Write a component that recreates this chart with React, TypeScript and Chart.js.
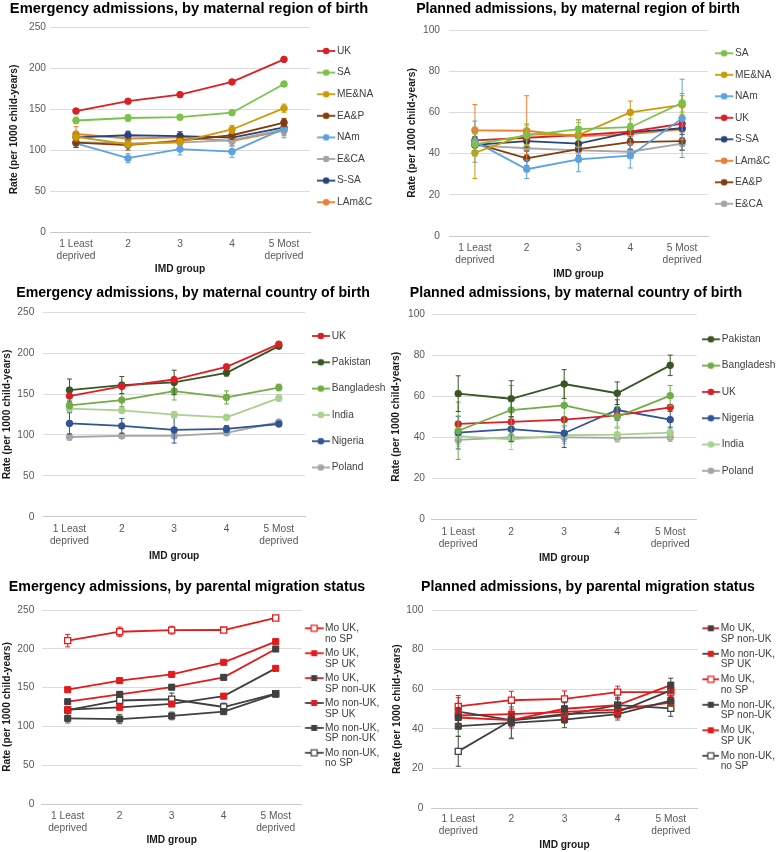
import React, { useEffect, useRef } from 'react';
import { Chart, registerables } from 'chart.js';

Chart.register(...registerables);

const FONT_FAMILY = '"Liberation Sans", Arial, Helvetica, sans-serif';

// ---------- categories ----------
const imdGroups: (string | string[])[] = [['1 Least', 'deprived'], '2', '3', '4', ['5 Most', 'deprived']];
const yTitleText = 'Rate (per 1000 child-years)';
const xTitleText = 'IMD group';

// ---------- Emergency admissions, by maternal region of birth ----------
const emRegionLabels = ['UK', 'SA', 'ME&NA', 'EA&P', 'NAm', 'E&CA', 'S-SA', 'LAm&C'];
const emRegionUK = [147.5, 159.5, 167.5, 183, 210.5];
const emRegionSA = [136, 139, 140, 145.5, 180.5];
const emRegionMENA = [116, 107, 110, 125, 151];
const emRegionEAP = [109, 106, 111.5, 118, 133.5];
const emRegionNAm = [108, 90, 101, 98, 126];
const emRegionECA = [109.5, 108, 109, 112, 125];
const emRegionSSA = [115.5, 118, 117, 115, 127.5];
const emRegionLAmC = [119.5, 114, 115.5, 111, 123.5];
const emRegionUKErr = [1, 1, 1, 1, 1.5];
const emRegionSAErr = [4, 4, 3, 2, 3];
const emRegionMENAErr = [5, 4, 4, 5, 5];
const emRegionEAPErr = [6, 6, 5, 5, 5];
const emRegionNAmErr = [5, 5.5, 7, 7, 11];
const emRegionECAErr = [5, 5, 5, 5, 6];
const emRegionSSAErr = [5, 5, 5, 4, 5];
const emRegionLAmCErr = [9, 8, 7, 6, 6];

// ---------- Planned admissions, by maternal region of birth ----------
const plRegionLabels = ['SA', 'ME&NA', 'NAm', 'UK', 'S-SA', 'LAm&C', 'EA&P', 'E&CA'];
const plRegionSA = [44.5, 48.8, 51.9, 52.8, 64.7];
const plRegionMENA = [40.4, 49.4, 49, 60, 63.6];
const plRegionNAm = [45.8, 32.4, 37.2, 39, 57.1];
const plRegionUK = [46.4, 47.7, 49, 50.6, 54.5];
const plRegionSSA = [44.2, 46.1, 44.8, 50.3, 52.3];
const plRegionLAmC = [51.3, 51.1, 48.4, 49.5, 51.8];
const plRegionEAP = [45, 37.7, 42.2, 45.6, 46.1];
const plRegionECA = [44, 42.6, 41.6, 40.9, 44.8];
const plRegionSAErr = [5, 5, 4.5, 4, 4.5];
const plRegionMENAErr = [12.5, 5, 6, 5.5, 4.5];
const plRegionNAmErr = [10, 4.5, 6, 6, 19];
const plRegionUKErr = [1, 1, 1, 1, 1];
const plRegionSSAErr = [4, 3, 3, 3, 3];
const plRegionLAmCErr = [12.5, 17, 8, 5, 5];
const plRegionEAPErr = [5, 3.5, 3, 3.5, 4.5];
const plRegionECAErr = [4, 3, 3, 3, 3];

// ---------- Emergency admissions, by maternal country of birth ----------
const emCountryLabels = ['UK', 'Pakistan', 'Bangladesh', 'India', 'Nigeria', 'Poland'];
const emCountryUK = [147.6, 159.3, 167.8, 183.3, 211];
const emCountryPakistan = [154.9, 161, 164.2, 176, 208.6];
const emCountryBangladesh = [136.1, 142.7, 153.7, 145.9, 158];
const emCountryIndia = [132.1, 130, 124.8, 121.5, 145.1];
const emCountryNigeria = [114.1, 111, 106.1, 107.3, 113.4];
const emCountryPoland = [97.5, 98.8, 98.8, 102.4, 115.8];
const emCountryUKErr = [1, 1, 1, 1, 1.5];
const emCountryPakistanErr = [13.5, 10.5, 15, 4, 3];
const emCountryBangladeshErr = [4, 8, 11, 8, 4];
const emCountryIndiaErr = [3, 4, 4, 3, 4];
const emCountryNigeriaErr = [13, 9, 16, 4, 3];
const emCountryPolandErr = [4, 3, 3, 2, 3];

// ---------- Planned admissions, by maternal country of birth ----------
const plCountryLabels = ['Pakistan', 'Bangladesh', 'UK', 'Nigeria', 'India', 'Poland'];
const plCountryPakistan = [61.3, 58.8, 66, 61.5, 75.1];
const plCountryBangladesh = [43.2, 53.3, 55.6, 50, 60.3];
const plCountryUK = [46.5, 47.5, 48.6, 50.7, 54.6];
const plCountryNigeria = [42.3, 44, 42, 53.3, 48.6];
const plCountryIndia = [40.6, 39, 41, 41.3, 42.3];
const plCountryPoland = [38.7, 40, 40, 39.7, 40];
const plCountryPakistanErr = [8.7, 8.8, 7, 5.5, 5];
const plCountryBangladeshErr = [14, 12, 10, 5, 5];
const plCountryUKErr = [0.8, 0.8, 0.8, 0.8, 0.8];
const plCountryNigeriaErr = [8, 6, 7, 5, 4];
const plCountryIndiaErr = [5, 5, 4, 3, 3];
const plCountryPolandErr = [2, 2, 2, 2, 2];

// ---------- Emergency admissions, by parental migration status ----------
const emMigLabels = ['Mo UK,\nno SP', 'Mo UK,\nSP UK', 'Mo UK,\nSP non-UK', 'Mo non-UK,\nSP UK', 'Mo non-UK,\nSP non-UK', 'Mo non-UK,\nno SP'];
const emMigUkNoSP = [210.5, 222, 224, 224.2, 239.7];
const emMigUkSpUk = [147.3, 159, 167, 182.6, 209.2];
const emMigUkSpNon = [131.8, 141.3, 150.5, 163.2, 199.7];
const emMigNonSpUk = [121.5, 124.6, 128.9, 139, 174.8];
const emMigNonSpNon = [110.4, 109.5, 113.5, 119, 141.5];
const emMigNonNoSP = [121, 133.4, 135, 125, 142.2];
const emMigUkNoSPErr = [8, 6, 5, 3, 2];
const emMigUkSpUkErr = [1, 1, 1, 1, 1];
const emMigUkSpNonErr = [3, 3, 3, 3, 3];
const emMigNonSpUkErr = [3, 3, 3, 3, 3];
const emMigNonSpNonErr = [6, 6, 5, 3, 3];
const emMigNonNoSPErr = [4, 5, 8, 5, 3];

// ---------- Planned admissions, by parental migration status ----------
const plMigLabels = ['Mo UK,\nSP non-UK', 'Mo non-UK,\nSP UK', 'Mo UK,\nno SP', 'Mo non-UK,\nSP non-UK', 'Mo UK,\nSP UK', 'Mo non-UK,\nno SP'];
const plMigUkSpNon = [45.8, 44.5, 50.2, 52, 62.1];
const plMigNonSpUk = [48.8, 44.5, 47.5, 48.5, 59.5];
const plMigUkNoSP = [51.4, 54.5, 55.2, 58.6, 58.6];
const plMigNonSpNon = [41.4, 43.1, 44.7, 47.5, 54.3];
const plMigUkSpUk = [46.8, 47.5, 48.6, 49.8, 53.3];
const plMigNonNoSP = [28.7, 44.4, 47, 52, 50.4];
const plMigUkSpNonErr = [5, 3, 3, 3, 3.5];
const plMigNonSpUkErr = [7, 4, 3, 3, 3];
const plMigUkNoSPErr = [5.5, 4.5, 4, 3, 2];
const plMigNonSpNonErr = [5, 8, 4, 3, 3];
const plMigUkSpUkErr = [1, 1, 1, 1, 1];
const plMigNonNoSPErr = [7.5, 9, 4, 4, 4];

// ---------- colours ----------
const C = {
  red: '#dc1f26',
  sa: '#7cc24a',
  mena: '#cc9a06',
  eap: '#843c0c',
  nam: '#5ba3e0',
  eca: '#a5a5a5',
  ssa: '#264478',
  lamc: '#ed7d31',
  pakistan: '#375623',
  bangladesh: '#70ad47',
  india: '#a9d18e',
  nigeria: '#2f5597',
  poland: '#a5a5a5',
  migRed: '#e31b1b',
  migDark: '#404040',
  olive: '#4b6b2a',
};

type Series = {
  label: string;
  values: number[];
  errors: number[];
  line: string;
  marker: string;
  open?: boolean;
  errColor?: string;
};

type Spec = {
  title: string;
  titleSize: number;
  series: Series[];
  yMax: number;
  yStep: number;
  shape: 'circle' | 'rect';
  L: number; T: number; W: number; H: number;
  area: { left: number; right: number; top: number; bottom: number };
  titleY: number;
  yTitleX: number; yTickRight: number;
  xTickY: number; xTitleY: number;
  legFirstY: number; legSpacing: number; legLines: number; legLH: number;
  iconStart: number; iconLen: number; textStart: number;
};

const AX_SIZE = 10.2;
const AX_LH = AX_SIZE * 1.2;
const TICK_SIZE = 10.2;
const TICK_LH = TICK_SIZE * 1.2;
const LEG_SIZE = 10.2;

const ser = (label: string, values: number[], errors: number[], line: string, marker?: string, open?: boolean, errColor?: string): Series =>
  ({ label, values, errors, line, marker: marker || line, open, errColor });

const specs: Spec[] = [
  {
    title: 'Emergency admissions, by maternal region of birth',
    titleSize: 14.7,
    series: [
      ser(emRegionLabels[0], emRegionUK, emRegionUKErr, C.red),
      ser(emRegionLabels[1], emRegionSA, emRegionSAErr, C.sa),
      ser(emRegionLabels[2], emRegionMENA, emRegionMENAErr, C.mena),
      ser(emRegionLabels[3], emRegionEAP, emRegionEAPErr, C.eap),
      ser(emRegionLabels[4], emRegionNAm, emRegionNAmErr, C.nam),
      ser(emRegionLabels[5], emRegionECA, emRegionECAErr, C.eca),
      ser(emRegionLabels[6], emRegionSSA, emRegionSSAErr, C.ssa),
      ser(emRegionLabels[7], emRegionLAmC, emRegionLAmCErr, C.lamc),
    ],
    yMax: 250, yStep: 50, shape: 'circle',
    L: 0, T: 0, W: 378, H: 280,
    area: { left: 50, right: 310, top: 27, bottom: 232 },
    titleY: 8.8,
    yTitleX: 14, yTickRight: 46, xTickY: 244, xTitleY: 269,
    legFirstY: 51, legSpacing: 21.6, legLines: 1, legLH: 12,
    iconStart: 317, iconLen: 18.3, textStart: 337,
  },
  {
    title: 'Planned admissions, by maternal region of birth',
    titleSize: 14.15,
    series: [
      ser(plRegionLabels[0], plRegionSA, plRegionSAErr, C.sa),
      ser(plRegionLabels[1], plRegionMENA, plRegionMENAErr, C.mena),
      ser(plRegionLabels[2], plRegionNAm, plRegionNAmErr, C.nam),
      ser(plRegionLabels[3], plRegionUK, plRegionUKErr, C.red),
      ser(plRegionLabels[4], plRegionSSA, plRegionSSAErr, C.ssa),
      ser(plRegionLabels[5], plRegionLAmC, plRegionLAmCErr, C.lamc),
      ser(plRegionLabels[6], plRegionEAP, plRegionEAPErr, C.eap),
      ser(plRegionLabels[7], plRegionECA, plRegionECAErr, C.eca),
    ],
    yMax: 100, yStep: 20, shape: 'circle',
    L: 375, T: 0, W: 406, H: 282,
    area: { left: 449, right: 708, top: 30, bottom: 236 },
    titleY: 8.8,
    yTitleX: 411.7, yTickRight: 440, xTickY: 248.3, xTitleY: 274,
    legFirstY: 53.3, legSpacing: 21.5, legLines: 1, legLH: 12,
    iconStart: 715, iconLen: 18.3, textStart: 735,
  },
  {
    title: 'Emergency admissions, by maternal country of birth',
    titleSize: 14.15,
    series: [
      ser(emCountryLabels[0], emCountryUK, emCountryUKErr, C.red),
      ser(emCountryLabels[1], emCountryPakistan, emCountryPakistanErr, C.pakistan),
      ser(emCountryLabels[2], emCountryBangladesh, emCountryBangladeshErr, C.bangladesh),
      ser(emCountryLabels[3], emCountryIndia, emCountryIndiaErr, C.india),
      ser(emCountryLabels[4], emCountryNigeria, emCountryNigeriaErr, C.nigeria),
      ser(emCountryLabels[5], emCountryPoland, emCountryPolandErr, C.poland),
    ],
    yMax: 250, yStep: 50, shape: 'circle',
    L: -4, T: 280, W: 394, H: 284,
    area: { left: 43.3, right: 305, top: 312.3, bottom: 516.7 },
    titleY: 293.3,
    yTitleX: 6.7, yTickRight: 34.3, xTickY: 529.3, xTitleY: 556,
    legFirstY: 336, legSpacing: 26.3, legLines: 1, legLH: 12,
    iconStart: 311.7, iconLen: 18.3, textStart: 331.7,
  },
  {
    title: 'Planned admissions, by maternal country of birth',
    titleSize: 14.15,
    series: [
      ser(plCountryLabels[0], plCountryPakistan, plCountryPakistanErr, C.pakistan),
      ser(plCountryLabels[1], plCountryBangladesh, plCountryBangladeshErr, C.bangladesh),
      ser(plCountryLabels[2], plCountryUK, plCountryUKErr, C.red),
      ser(plCountryLabels[3], plCountryNigeria, plCountryNigeriaErr, C.nigeria),
      ser(plCountryLabels[4], plCountryIndia, plCountryIndiaErr, C.india),
      ser(plCountryLabels[5], plCountryPoland, plCountryPolandErr, C.poland),
    ],
    yMax: 100, yStep: 20, shape: 'circle',
    L: 372, T: 280, W: 408, H: 286,
    area: { left: 431.7, right: 696.7, top: 314.3, bottom: 519.3 },
    titleY: 292.7,
    yTitleX: 396, yTickRight: 425, xTickY: 531.7, xTitleY: 558.3,
    legFirstY: 339.3, legSpacing: 26.3, legLines: 1, legLH: 12,
    iconStart: 701.7, iconLen: 18.3, textStart: 721.7,
  },
  {
    title: 'Emergency admissions, by parental migration status',
    titleSize: 14.2,
    series: [
      ser(emMigLabels[0], emMigUkNoSP, emMigUkNoSPErr, C.migRed, C.migRed, true),
      ser(emMigLabels[1], emMigUkSpUk, emMigUkSpUkErr, C.migRed, C.migRed),
      ser(emMigLabels[2], emMigUkSpNon, emMigUkSpNonErr, C.migRed, C.migDark),
      ser(emMigLabels[3], emMigNonSpUk, emMigNonSpUkErr, C.migDark, C.migRed),
      ser(emMigLabels[4], emMigNonSpNon, emMigNonSpNonErr, C.migDark, C.migDark, false, C.olive),
      ser(emMigLabels[5], emMigNonNoSP, emMigNonNoSPErr, C.migDark, C.migDark, true),
    ],
    yMax: 250, yStep: 50, shape: 'rect',
    L: -10, T: 560, W: 394, H: 292,
    area: { left: 41.7, right: 301.7, top: 610, bottom: 804 },
    titleY: 586.7,
    yTitleX: 7.3, yTickRight: 34.3, xTickY: 816, xTitleY: 840,
    legFirstY: 628.3, legSpacing: 24.9, legLines: 2, legLH: 10.7,
    iconStart: 305, iconLen: 18.3, textStart: 325,
  },
  {
    title: 'Planned admissions, by parental migration status',
    titleSize: 14.15,
    series: [
      ser(plMigLabels[0], plMigUkSpNon, plMigUkSpNonErr, C.migRed, C.migDark),
      ser(plMigLabels[1], plMigNonSpUk, plMigNonSpUkErr, C.migDark, C.migRed),
      ser(plMigLabels[2], plMigUkNoSP, plMigUkNoSPErr, C.migRed, C.migRed, true),
      ser(plMigLabels[3], plMigNonSpNon, plMigNonSpNonErr, C.migDark, C.migDark, false, C.olive),
      ser(plMigLabels[4], plMigUkSpUk, plMigUkSpUkErr, C.migRed, C.migRed),
      ser(plMigLabels[5], plMigNonNoSP, plMigNonNoSPErr, C.migDark, C.migDark, true),
    ],
    yMax: 100, yStep: 20, shape: 'rect',
    L: 391, T: 560, W: 394, H: 292,
    area: { left: 431.7, right: 690, top: 610, bottom: 808.3 },
    titleY: 586.7,
    yTitleX: 397.3, yTickRight: 423.3, xTickY: 819.3, xTitleY: 845,
    legFirstY: 628.3, legSpacing: 25.5, legLines: 2, legLH: 10.7,
    iconStart: 695, iconLen: 17, textStart: 713.3,
  },
];

const errorBarPlugin = {
  id: 'errorBars',
  beforeDatasetDraw(chart: any, args: any) {
    const ds: any = chart.data.datasets[args.index];
    const errs: number[] | undefined = ds.errors;
    if (!errs) return;
    const yScale = chart.scales.y;
    const ctx: CanvasRenderingContext2D = chart.ctx;
    ctx.save();
    ctx.strokeStyle = ds.errColor;
    ctx.lineWidth = 1;
    args.meta.data.forEach((pt: any, i: number) => {
      const v = ds.data[i];
      const e = errs[i];
      const x = pt.x;
      const yt = yScale.getPixelForValue(v + e);
      const yb = yScale.getPixelForValue(v - e);
      ctx.beginPath();
      ctx.moveTo(x, yt); ctx.lineTo(x, yb);
      ctx.moveTo(x - 2.5, yt); ctx.lineTo(x + 2.5, yt);
      ctx.moveTo(x - 2.5, yb); ctx.lineTo(x + 2.5, yb);
      ctx.stroke();
    });
    ctx.restore();
  },
};

function makeIcon(s: Series, shape: 'circle' | 'rect', width: number, lineStart: number, len: number): HTMLCanvasElement {
  const cv = document.createElement('canvas');
  cv.width = width;
  cv.height = 14;
  const ctx = cv.getContext('2d')!;
  const cy = 7;
  ctx.strokeStyle = s.line;
  ctx.lineWidth = 1.8;
  ctx.beginPath();
  ctx.moveTo(lineStart, cy);
  ctx.lineTo(lineStart + len, cy);
  ctx.stroke();
  const mx = lineStart + len / 2;
  if (shape === 'circle') {
    ctx.fillStyle = s.marker;
    ctx.beginPath();
    ctx.arc(mx, cy, 3.3, 0, Math.PI * 2);
    ctx.fill();
  } else {
    const h = 3;
    ctx.fillStyle = s.open ? '#ffffff' : s.marker;
    ctx.fillRect(mx - h, cy - h, 2 * h, 2 * h);
    if (s.open) {
      ctx.strokeStyle = s.marker;
      ctx.lineWidth = 1.2;
      ctx.strokeRect(mx - h, cy - h, 2 * h, 2 * h);
    }
  }
  return cv;
}

function buildConfig(sp: Spec): any {
  const titleLH = sp.titleSize * 1.2;
  const tpTop = Math.max(0, sp.titleY - sp.T - titleLH / 2);
  const tpBottom = sp.area.top - sp.T - tpTop - titleLH;
  const yW = sp.area.left - sp.L;
  const yTitlePad = sp.yTitleX - sp.L - AX_LH / 2;
  const yTickPad = sp.area.left - sp.yTickRight;
  const xTickPad = sp.xTickY - sp.area.bottom - TICK_LH / 2;
  const xH = sp.xTitleY + AX_LH / 2 - sp.area.bottom;
  const padB = sp.T + sp.H - sp.area.bottom - xH;
  const legW = sp.L + sp.W - sp.area.right;
  const legP = sp.legSpacing - (sp.legLines > 1 ? sp.legLines * sp.legLH : LEG_SIZE);
  const legTitleH = sp.legFirstY - LEG_SIZE / 2 - sp.area.top - legP;
  const itemX = sp.area.right + legP;
  const bw = sp.textStart - LEG_SIZE / 2 - itemX;
  const center = itemX + bw / 2;
  const half = Math.max(center - sp.iconStart, sp.iconStart + sp.iconLen - center, 6);
  const iconW = Math.round(2 * half);
  const lineStart = sp.iconStart - (center - iconW / 2);
  const icons = sp.series.map((s) => makeIcon(s, sp.shape, iconW, lineStart, sp.iconLen));

  const radius = sp.shape === 'circle' ? 3.3 : 4.3;
  const datasets = sp.series.map((s) => ({
    label: s.label,
    data: s.values,
    errors: s.errors,
    errColor: s.errColor || s.marker,
    borderColor: s.line,
    backgroundColor: s.marker,
    borderWidth: 1.8,
    pointStyle: sp.shape,
    pointRadius: radius,
    pointHoverRadius: radius,
    pointBackgroundColor: s.open ? '#ffffff' : s.marker,
    pointBorderColor: s.marker,
    pointBorderWidth: s.open ? 1.3 : 1,
    tension: 0,
    fill: false,
  }));

  return {
    type: 'line',
    data: { labels: imdGroups, datasets },
    plugins: [errorBarPlugin],
    options: {
      responsive: false,
      animation: false,
      events: [],
      layout: { padding: { left: 0, right: 0, top: 0, bottom: padB } },
      plugins: {
        tooltip: { enabled: false },
        title: {
          display: true,
          text: sp.title,
          align: 'center',
          color: '#000000',
          font: { family: FONT_FAMILY, size: sp.titleSize, weight: 'bold', lineHeight: 1.2 },
          padding: { top: tpTop, bottom: tpBottom },
        },
        legend: {
          display: true,
          position: 'right',
          align: 'start',
          fullSize: false,
          maxWidth: legW,
          title: {
            display: true,
            text: '',
            font: { size: 1, lineHeight: 1 },
            padding: { top: Math.max(0, legTitleH - 1), bottom: 0 },
          },
          labels: {
            usePointStyle: true,
            pointStyleWidth: bw,
            padding: legP,
            color: '#404040',
            font: { family: FONT_FAMILY, size: LEG_SIZE, lineHeight: sp.legLH / LEG_SIZE },
            generateLabels: () =>
              sp.series.map((s, i) => ({
                text: s.label.indexOf('\n') >= 0 ? s.label.split('\n') : s.label,
                pointStyle: icons[i],
                datasetIndex: i,
                hidden: false,
                lineWidth: 0,
                strokeStyle: 'rgba(0,0,0,0)',
                fillStyle: 'rgba(0,0,0,0)',
                fontColor: '#404040',
              })),
          },
        },
      },
      scales: {
        x: {
          type: 'category',
          offset: true,
          afterFit: (scale: any) => { scale.height = xH; },
          grid: { display: false, drawTicks: false },
          border: { display: true, color: '#c8c8c8', width: 1 },
          ticks: {
            padding: xTickPad,
            maxRotation: 0,
            minRotation: 0,
            autoSkip: false,
            color: '#595959',
            font: { family: FONT_FAMILY, size: TICK_SIZE, lineHeight: 1.2 },
          },
          title: {
            display: true,
            text: xTitleText,
            color: '#1a1a1a',
            font: { family: FONT_FAMILY, size: AX_SIZE, weight: 'bold', lineHeight: 1.2 },
            padding: { top: 0, bottom: 0 },
          },
        },
        y: {
          min: 0,
          max: sp.yMax,
          afterFit: (scale: any) => { scale.width = yW; },
          grid: { color: '#dcdcdc', lineWidth: 1, drawTicks: false },
          border: { display: false },
          ticks: {
            stepSize: sp.yStep,
            padding: yTickPad,
            color: '#595959',
            font: { family: FONT_FAMILY, size: TICK_SIZE, lineHeight: 1.2 },
          },
          title: {
            display: true,
            text: yTitleText,
            color: '#1a1a1a',
            font: { family: FONT_FAMILY, size: AX_SIZE, weight: 'bold', lineHeight: 1.2 },
            padding: { top: yTitlePad, bottom: 0 },
          },
        },
      },
    },
  };
}

function Panel({ sp }: { sp: Spec }) {
  const ref = useRef<HTMLCanvasElement>(null);
  useEffect(() => {
    const chart = new Chart(ref.current as HTMLCanvasElement, buildConfig(sp));
    return () => chart.destroy();
  }, [sp]);
  return (
    <canvas
      ref={ref}
      width={sp.W}
      height={sp.H}
      style={{ position: 'absolute', left: sp.L, top: sp.T, width: sp.W, height: sp.H, display: 'block' }}
    />
  );
}

export default function App() {
  return (
    <div style={{ position: 'absolute', left: 0, top: 0, width: 777, height: 852, background: '#ffffff', overflow: 'hidden' }}>
      {specs.map((sp, i) => (
        <Panel key={i} sp={sp} />
      ))}
    </div>
  );
}
